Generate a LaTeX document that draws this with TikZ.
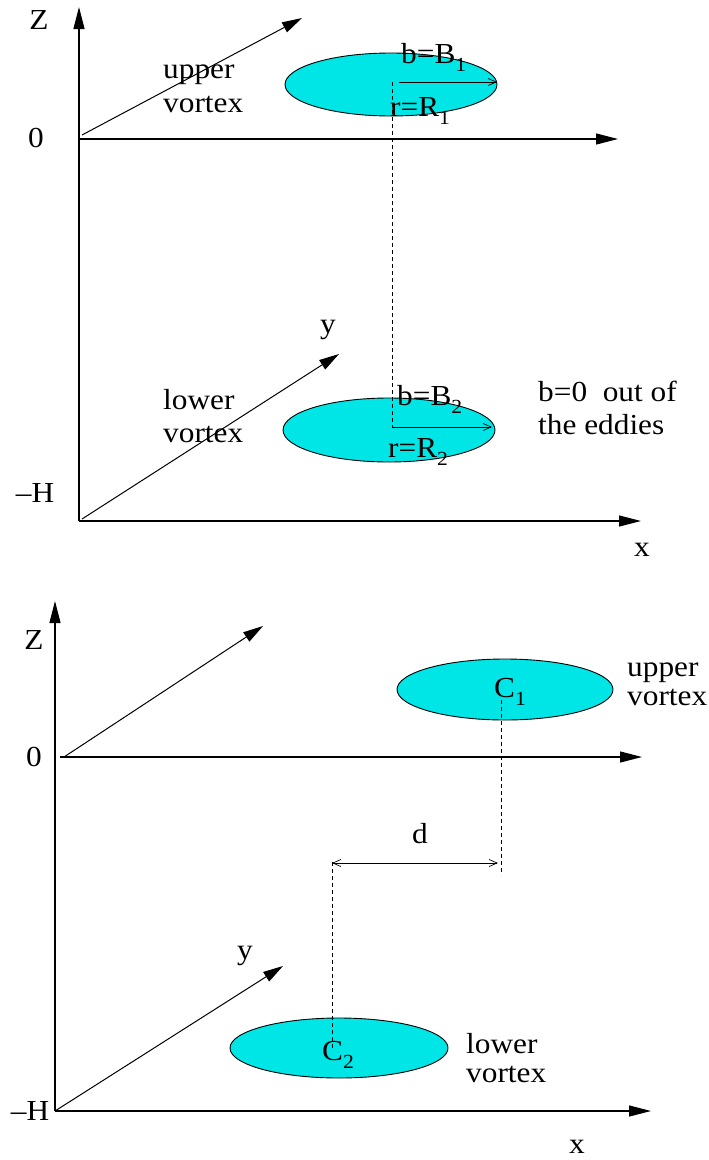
\documentclass[tikz,border=0pt]{standalone}
\usepackage{fontspec}
\setmainfont{Liberation Serif}[FakeStretch=1.08]
\usetikzlibrary{arrows.meta,shapes.geometric}
\definecolor{vcyan}{RGB}{0,229,229}
\newcommand\lowsub[1]{\raisebox{-8pt}{\fontsize{20}{20}\selectfont #1}}
\begin{document}
\begin{tikzpicture}[x=1pt,y=-1pt,
  axis/.style={line width=1.2pt,-{Triangle[length=22pt,width=11pt]}},
  depth/.style={line width=1pt,-{Triangle[length=20pt,width=11pt]}},
  vortex/.style={ellipse,draw,line width=0.9pt,fill=vcyan,inner sep=0pt},
  lbl/.style={font=\fontsize{29}{29}\selectfont,inner sep=0pt},
  txt/.style={font=\fontsize{29}{33}\selectfont,inner sep=0pt,align=left,anchor=base west},
  guide/.style={line width=0.7pt,dash pattern=on 4pt off 3pt},
  meas/.style={line width=0.7pt,-{Straight Barb[length=8pt,width=7pt]}},
  dmeas/.style={line width=0.7pt,{Straight Barb[length=8pt,width=7pt]}-{Straight Barb[length=8pt,width=7pt]}},
]
\useasboundingbox (0,0) rectangle (709,1160);

% ================= top panel =================
\coordinate (hA) at (79,521);
\coordinate (zA) at (79,139);
\coordinate (ztA) at (79,7);
\coordinate (xzA) at (618,139);
\coordinate (xhA) at (641,521);
\coordinate (yzA0) at (82,135);
\coordinate (yzA1) at (302,18);
\coordinate (yhA0) at (82,519);
\coordinate (yhA1) at (339,354);

\draw[axis] (hA) -- (ztA);
\draw[axis] (zA) -- (xzA);
\draw[axis] (hA) -- (xhA);
\draw[depth] (yzA0) -- (yzA1);
\draw[depth] (yhA0) -- (yhA1);

\node[lbl] (ZA) at (39,20) {Z};
\node[lbl] (OA) at (36,138) {0};
\node[lbl] (HA) at (35,493) {--H};
\node[lbl] (XA) at (642,550) {x};
\node[lbl] (YA) at (328,330) {y};

\node[vortex,minimum width=212pt,minimum height=63pt] (E1) at (391,84.5) {};
\node[vortex,minimum width=212pt,minimum height=64pt] (E2) at (389,430) {};

\coordinate (d1) at (392,82);
\coordinate (d2) at (392,427);
\draw[guide] (d1) -- (d2);
\coordinate (b1s) at (399,82);
\coordinate (b1e) at (497,82);
\draw[meas] (b1s) -- (b1e);
\coordinate (b2e) at (492,427);
\draw[meas] (d2) -- (b2e);

\node[txt] (B1) at (401,63) {b=B\lowsub{1}};
\node[txt] (R1) at (390,116) {r=R\lowsub{1}};
\node[txt] (B2) at (397,405) {b=B\lowsub{2}};
\node[txt] (R2) at (388,457) {r=R\lowsub{2}};

\node[txt,font=\fontsize{29}{34}\selectfont] (UA) at (163,112) {upper\\vortex};
\node[txt,font=\fontsize{29}{33}\selectfont] (LA) at (163,442) {lower\\vortex};
\node[txt,font=\fontsize{29}{33}\selectfont] (BO) at (538,434) {b=0~ out of\\the eddies};

% ================= bottom panel =================
\coordinate (hB) at (55,1111);
\coordinate (ztB) at (55,601);
\coordinate (zB) at (60,757);
\coordinate (xzB) at (642,757);
\coordinate (xhB) at (651,1111);
\coordinate (yzB0) at (64,757);
\coordinate (yzB1) at (263,626);
\coordinate (yhB1) at (283,966);

\draw[axis] (hB) -- (ztB);
\draw[axis] (zB) -- (xzB);
\draw[axis] (hB) -- (xhB);
\draw[depth] (yzB0) -- (yzB1);
\draw[depth] (hB) -- (yhB1);

\node[lbl] (ZB) at (34,640) {Z};
\node[lbl] (OB) at (34,757) {0};
\node[lbl] (HB) at (30,1111) {--H};
\node[lbl] (XB) at (577,1147) {x};
\node[lbl] (YB) at (245,956) {y};

\node[vortex,minimum width=216pt,minimum height=61pt] (E3) at (505,689.5) {};
\node[vortex,minimum width=218pt,minimum height=60pt] (E4) at (339,1048) {};

\coordinate (c1a) at (501,700);
\coordinate (c1b) at (501,875);
\draw[guide] (c1a) -- (c1b);
\coordinate (c2a) at (332,862);
\coordinate (c2b) at (332,1048);
\draw[guide] (c2a) -- (c2b);
\coordinate (dl) at (332,863);
\coordinate (dr) at (498,863);
\draw[dmeas] (dl) -- (dr);
\node[lbl] (D) at (420,834) {d};

\node[txt] (C1) at (494,697) {C\lowsub{1}};
\node[txt] (C2) at (322,1060) {C\lowsub{2}};

\node[txt,font=\fontsize{29}{29}\selectfont] (UB) at (627,705) {upper\\vortex};
\node[txt,font=\fontsize{29}{29}\selectfont] (LB) at (466,1082) {lower\\vortex};
\end{tikzpicture}
\end{document}
